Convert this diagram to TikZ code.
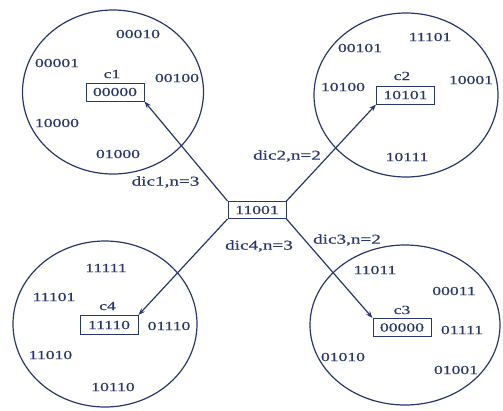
\documentclass[tikz,border=0pt]{standalone}
\usepackage{fontspec}
\setmainfont{Liberation Serif}[FakeStretch=1.42,FakeBold=0.5]
\usetikzlibrary{shapes.geometric,arrows.meta}
\definecolor{ink}{RGB}{40,54,112}
\begin{document}
\begin{tikzpicture}[x=1pt,y=-1pt,
  every node/.style={text=ink,font=\fontsize{12.4}{14}\selectfont},
  tag/.style={font=\fontsize{13.5}{15}\selectfont},
  cluster/.style={draw=ink,line width=1.2pt,ellipse,inner sep=0pt},
  codebox/.style={draw=ink,line width=1pt,rectangle,minimum width=58pt,minimum height=18pt,inner sep=0pt},
  link/.style={draw=ink,line width=1.2pt,-{Stealth[length=7pt,width=5pt]}}]
\useasboundingbox (0,0) rectangle (503,410);

% four clusters
\node[cluster,minimum width=181pt,minimum height=164pt] (e1) at (113,92) {};
\node[cluster,minimum width=184pt,minimum height=164pt] (e2) at (406,95) {};
\node[cluster,minimum width=190pt,minimum height=160pt] (e3) at (405,325) {};
\node[cluster,minimum width=184pt,minimum height=166pt] (e4) at (105,324) {};

% centre word and cluster heads
\node[codebox,minimum height=17pt] (m) at (257,210) {11001};
\node[codebox] (b1) at (115,92) {00000};
\node[codebox] (b2) at (405.5,95) {10101};
\node[codebox] (b3) at (402,327.5) {00000};
\node[codebox,minimum height=19pt] (b4) at (109,325) {11110};

\node (l1) at (112,74) {c1};
\node (l2) at (402,76) {c2};
\node (l3) at (402,310) {c3};
\node (l4) at (107.5,306) {c4};

% members of cluster 1
\node (w11) at (138,34) {00010};
\node (w12) at (57,63) {00001};
\node (w13) at (177,78) {00100};
\node (w14) at (57,123) {10000};
\node (w15) at (118,154) {01000};

% members of cluster 2
\node (w21) at (360,48) {00101};
\node (w22) at (430,37) {11101};
\node (w23) at (343,87) {10100};
\node (w24) at (471,80) {10001};
\node (w25) at (407,157) {10111};

% members of cluster 3
\node (w31) at (375,270) {11011};
\node (w32) at (454,291) {00011};
\node (w33) at (462,330) {01111};
\node (w34) at (343,357) {01010};
\node (w35) at (456,370) {01001};

% members of cluster 4
\node (w41) at (106,268) {11111};
\node (w42) at (54,297) {11101};
\node (w43) at (169,326) {01110};
\node (w44) at (50.5,355) {11010};
\node (w45) at (113,387) {10110};

% links from the centre word
\draw[link] (m.north west) -- (b1.south east);
\draw[link] (m.north east) -- (b2.south west);
\draw[link] (m.south east) -- (b3.north west);
\draw[link] (m.south west) -- (b4.north east);

\node[tag] (d1) at (165.5,182) {dic1,n=3};
\node[tag] (d2) at (287,156) {dic2,n=2};
\node[tag] (d3) at (347,240) {dic3,n=2};
\node[tag] (d4) at (259,246) {dic4,n=3};
\end{tikzpicture}
\end{document}
